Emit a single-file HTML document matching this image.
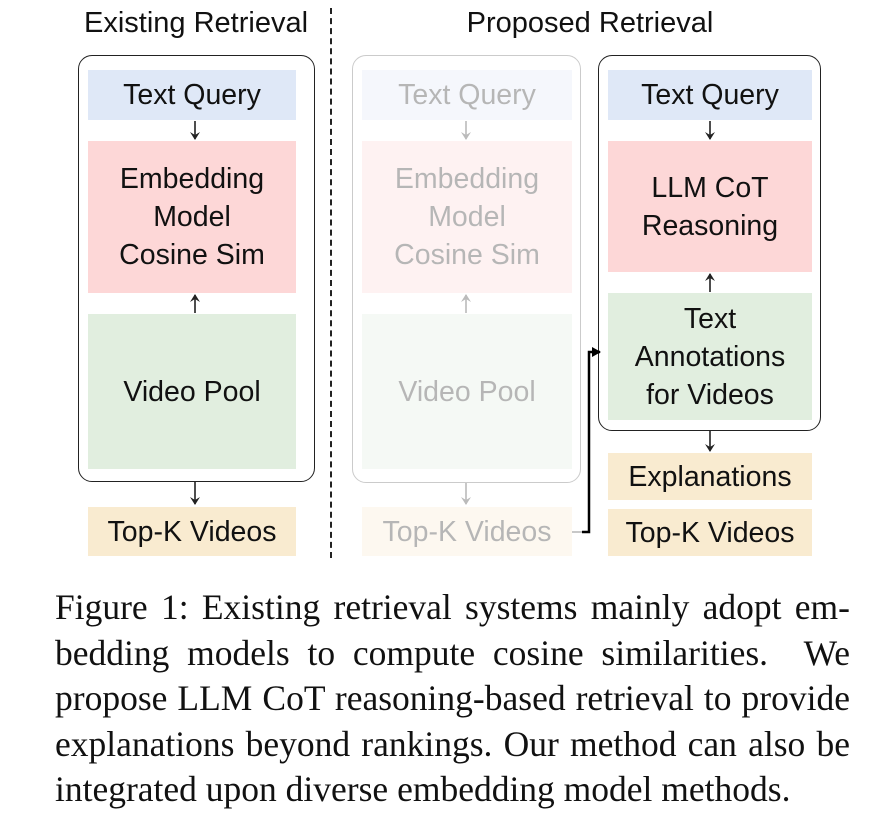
<!DOCTYPE html>
<html><head><style>
body{margin:0;width:886px;height:816px;background:#fff;position:relative;font-family:"Liberation Sans",sans-serif;overflow:hidden}
.a{position:absolute}
.t{position:absolute;font-size:29px;color:#111;text-align:center;white-space:nowrap}
.box{position:absolute;display:flex;align-items:center;justify-content:center;text-align:center;font-size:28.5px;line-height:38px;color:#111}
.c{position:absolute;border:1.5px solid #222;border-radius:14px}
.b{background:#dfe8f7}.p{background:#fdd7d7}.g{background:#e1eedf}.o{background:#f9ebd0}
.fade{opacity:0.3}
.cap{position:absolute;left:55px;top:585px;width:795px;font-family:"Liberation Serif",serif;font-size:35.5px;line-height:45.5px;color:#111}
.cap div{text-align:justify;text-align-last:justify;white-space:nowrap}
.cap div.l{text-align-last:left}
</style></head><body>
<div class="t" style="left:60px;top:7px;width:272px">Existing Retrieval</div>
<div class="t" style="left:440px;top:7px;width:300px">Proposed Retrieval</div>
<div class="a" style="left:330px;top:8px;height:550px;border-left:2px dashed #222"></div>

<div class="c" style="left:78px;top:55px;width:235px;height:425px"></div>
<div class="box b" style="left:88px;top:70px;width:208px;height:50px">Text Query</div>
<div class="box p" style="left:88px;top:141px;width:208px;height:152px">Embedding<br>Model<br>Cosine Sim</div>
<div class="box g" style="left:88px;top:314px;width:208px;height:155px">Video Pool</div>
<div class="box o" style="left:88px;top:507px;width:208px;height:49px">Top-K Videos</div>

<div class="fade">
<div class="c" style="left:352px;top:55px;width:227px;height:426px;border-color:#555"></div>
<div class="box b" style="left:362px;top:70px;width:210px;height:50px">Text Query</div>
<div class="box p" style="left:362px;top:141px;width:210px;height:152px">Embedding<br>Model<br>Cosine Sim</div>
<div class="box g" style="left:362px;top:314px;width:210px;height:155px">Video Pool</div>
<div class="box o" style="left:362px;top:507px;width:210px;height:49px">Top-K Videos</div>
</div>

<div class="c" style="left:598px;top:55px;width:221px;height:374px"></div>
<div class="box b" style="left:608px;top:70px;width:204px;height:50px">Text Query</div>
<div class="box p" style="left:608px;top:141px;width:204px;height:131px">LLM CoT<br>Reasoning</div>
<div class="box g" style="left:608px;top:293px;width:204px;height:127px">Text<br>Annotations<br>for Videos</div>
<div class="box o" style="left:608px;top:453px;width:204px;height:47px">Explanations</div>
<div class="box o" style="left:608px;top:509px;width:204px;height:47px">Top-K Videos</div>

<svg class="a" style="left:0;top:0" width="886" height="816">
<defs>
<marker id="ar" markerWidth="10" markerHeight="10" refX="7" refY="5" orient="auto" markerUnits="userSpaceOnUse"><path d="M0,0 L8,5 L0,10 L3,5Z" fill="#222"/></marker>
<marker id="ag" markerWidth="10" markerHeight="10" refX="7" refY="5" orient="auto" markerUnits="userSpaceOnUse"><path d="M0,0 L8,5 L0,10 L3,5Z" fill="#bbb"/></marker>
<marker id="af" markerWidth="10" markerHeight="10" refX="8" refY="5" orient="auto" markerUnits="userSpaceOnUse"><path d="M0,0 L9,5 L0,10Z" fill="#000"/></marker>
</defs>
<g stroke="#222" stroke-width="1.6" fill="none">
<line x1="195" y1="121" x2="195" y2="139" marker-end="url(#ar)"/>
<line x1="195" y1="313" x2="195" y2="295" marker-end="url(#ar)"/>
<line x1="195" y1="482" x2="195" y2="504" marker-end="url(#ar)"/>
<line x1="710" y1="121" x2="710" y2="139" marker-end="url(#ar)"/>
<line x1="710" y1="292" x2="710" y2="274" marker-end="url(#ar)"/>
<line x1="710" y1="431" x2="710" y2="451" marker-end="url(#ar)"/>
</g>
<g stroke="#bbb" stroke-width="1.6" fill="none">
<line x1="466" y1="121" x2="466" y2="139" marker-end="url(#ag)"/>
<line x1="466" y1="313" x2="466" y2="295" marker-end="url(#ag)"/>
<line x1="466" y1="483" x2="466" y2="504" marker-end="url(#ag)"/>
<line x1="572" y1="532" x2="582" y2="532"/>
</g>
<polyline points="582,532 589,532 589,352 600,352" fill="none" stroke="#000" stroke-width="2.5" marker-end="url(#af)"/>
</svg>

<div class="cap">
<div>Figure 1: Existing retrieval systems mainly adopt em-</div>
<div>bedding models to compute cosine similarities. &nbsp;We</div>
<div>propose LLM CoT reasoning-based retrieval to provide</div>
<div>explanations beyond rankings. Our method can also be</div>
<div class="l">integrated upon diverse embedding model methods.</div>
</div>
</body></html>
